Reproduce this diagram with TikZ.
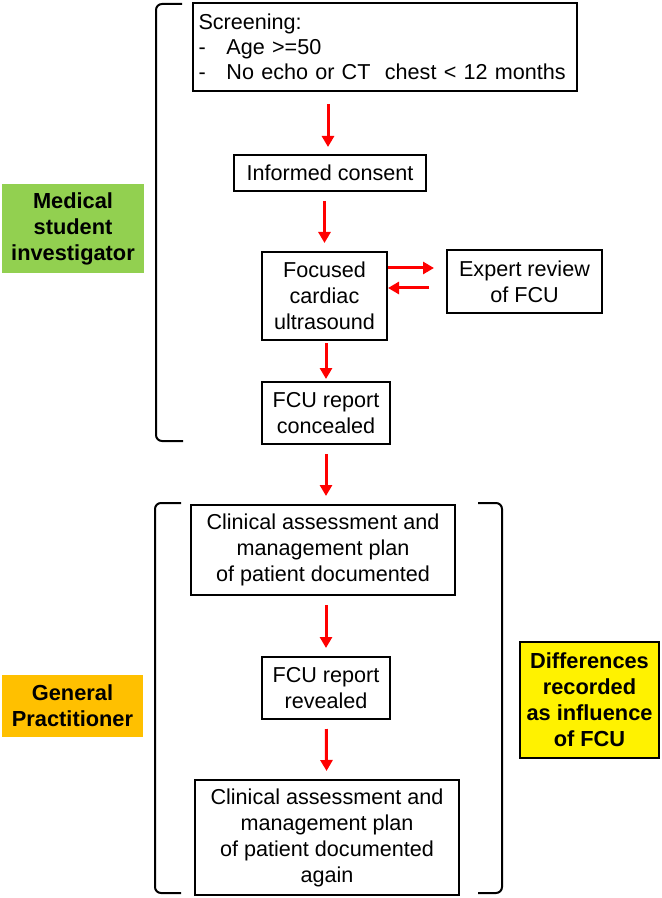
\documentclass[tikz,border=0pt]{standalone}
\usepackage{fontspec}
\setmainfont{Liberation Sans}
\usetikzlibrary{positioning, arrows.meta, calc}
\definecolor{med_green}{RGB}{146,208,80}
\definecolor{gp_orange}{RGB}{255,192,0}
\tikzset{
    flow_node/.style={rectangle, draw=black, line width=1pt, text centered, align=center, inner sep=2pt, font=\fontsize{10.8}{13}\selectfont},
    role_node/.style={rectangle, text centered, align=center, inner sep=2pt, font=\fontsize{10.9}{13}\selectfont\bfseries},
    arrow/.style={draw=red, line width=1.5pt, -{Triangle[width=6pt, length=5.5pt]}, shorten <=4.5pt, shorten >=4pt},
    bracket/.style={line width=1pt, rounded corners=3pt},
}
\begin{document}
\begin{tikzpicture}[x=0.5pt, y=-0.5pt]
      \useasboundingbox (0,0) rectangle (661,898);
      %%%%%%%%%%%%%%%%%%%%%%%%%%%%%
      % Medical student part      %
      %%%%%%%%%%%%%%%%%%%%%%%%%%%%%
      \node (screen) [flow_node, text width=186pt, align=left, inner xsep=3pt, inner ysep=2pt,
          minimum height=44pt, font=\fontsize{10.8}{12.5}\selectfont] at (384.5,47)
          {Screening:\\
           \makebox[14pt][l]{-}Age >=50\\
           \makebox[14pt][l]{-}No echo or CT\ \ chest < 12 months};
      \node (consent) [flow_node, minimum width=96pt, minimum height=18pt] at (330,173)
          {Informed consent};
      \node (focus) [flow_node, minimum width=62.5pt, minimum height=44pt] at (324.5,296)
          {Focused\\cardiac\\ultrasound};
      \node (expert) [flow_node, minimum width=77.5pt, minimum height=31.5pt] at (524.5,281.5)
          {Expert review\\of FCU};
      \node (concealed) [flow_node, minimum width=64pt, minimum height=31pt] at (326,413)
          {FCU report\\concealed};

      %%%%%%%%%%%%%%%%%%%%%%%%%%%%%
      % General practitioner part %
      %%%%%%%%%%%%%%%%%%%%%%%%%%%%%
      \node (assess) [flow_node, minimum width=132pt, minimum height=45pt] at (323,550)
          {Clinical assessment and\\management plan\\of patient documented};
      \node (revealed) [flow_node, minimum width=64pt, minimum height=31pt] at (326,688)
          {FCU report\\revealed};
      \node (reassess) [flow_node, minimum width=132pt, minimum height=57.5pt] at (327,837.5)
          {Clinical assessment and\\management plan\\of patient documented\\again};

      % roles
      \node (student) [role_node, fill=med_green, minimum width=71pt, minimum height=44.5pt] at (73,228.5)
          {Medical\\student\\investigator};
      \node (gp) [role_node, fill=gp_orange, minimum width=70.5pt, minimum height=31pt] at (72.5,706)
          {General\\Practitioner};
      \node (differences) [role_node, fill=yellow, draw=black, line width=1pt, minimum width=69.5pt, minimum height=58pt] at (589.5,700)
          {Differences\\recorded\\as influence\\of FCU};

      % brackets
      \draw [bracket] (182,4) -- (156,4) -- (156,441) -- (183,441);
      \draw [bracket] (181,503) -- (155,503) -- (155,893) -- (181,893);
      \draw [bracket] (478,503) -- (502,503) -- (502,893) -- (478,893);

      \draw [arrow, shorten <=6pt] (screen.south -| 328,0) -- (328,155);
      \draw [arrow] (consent.south -| focus) -- (focus.north);
      \draw [arrow, shorten <=1pt, shorten >=1pt] (focus.south -| concealed) -- (concealed.north);
      \draw [arrow] (concealed) -- (concealed |- assess.north);
      \draw [arrow] (assess.south -| revealed) -- (revealed.north);
      \draw [arrow] (revealed) -- (reassess);
      \draw [arrow, shorten <=0pt, shorten >=6pt] ($(focus.east)+(0,-28)$) -- ($(expert.west |- focus.east)+(0,-28)$);
      \draw [arrow, shorten <=8.5pt, shorten >=0pt] ($(expert.west |- focus.east)+(0,-8)$) -- ($(focus.east)+(0,-8)$);
\end{tikzpicture}
\end{document}
